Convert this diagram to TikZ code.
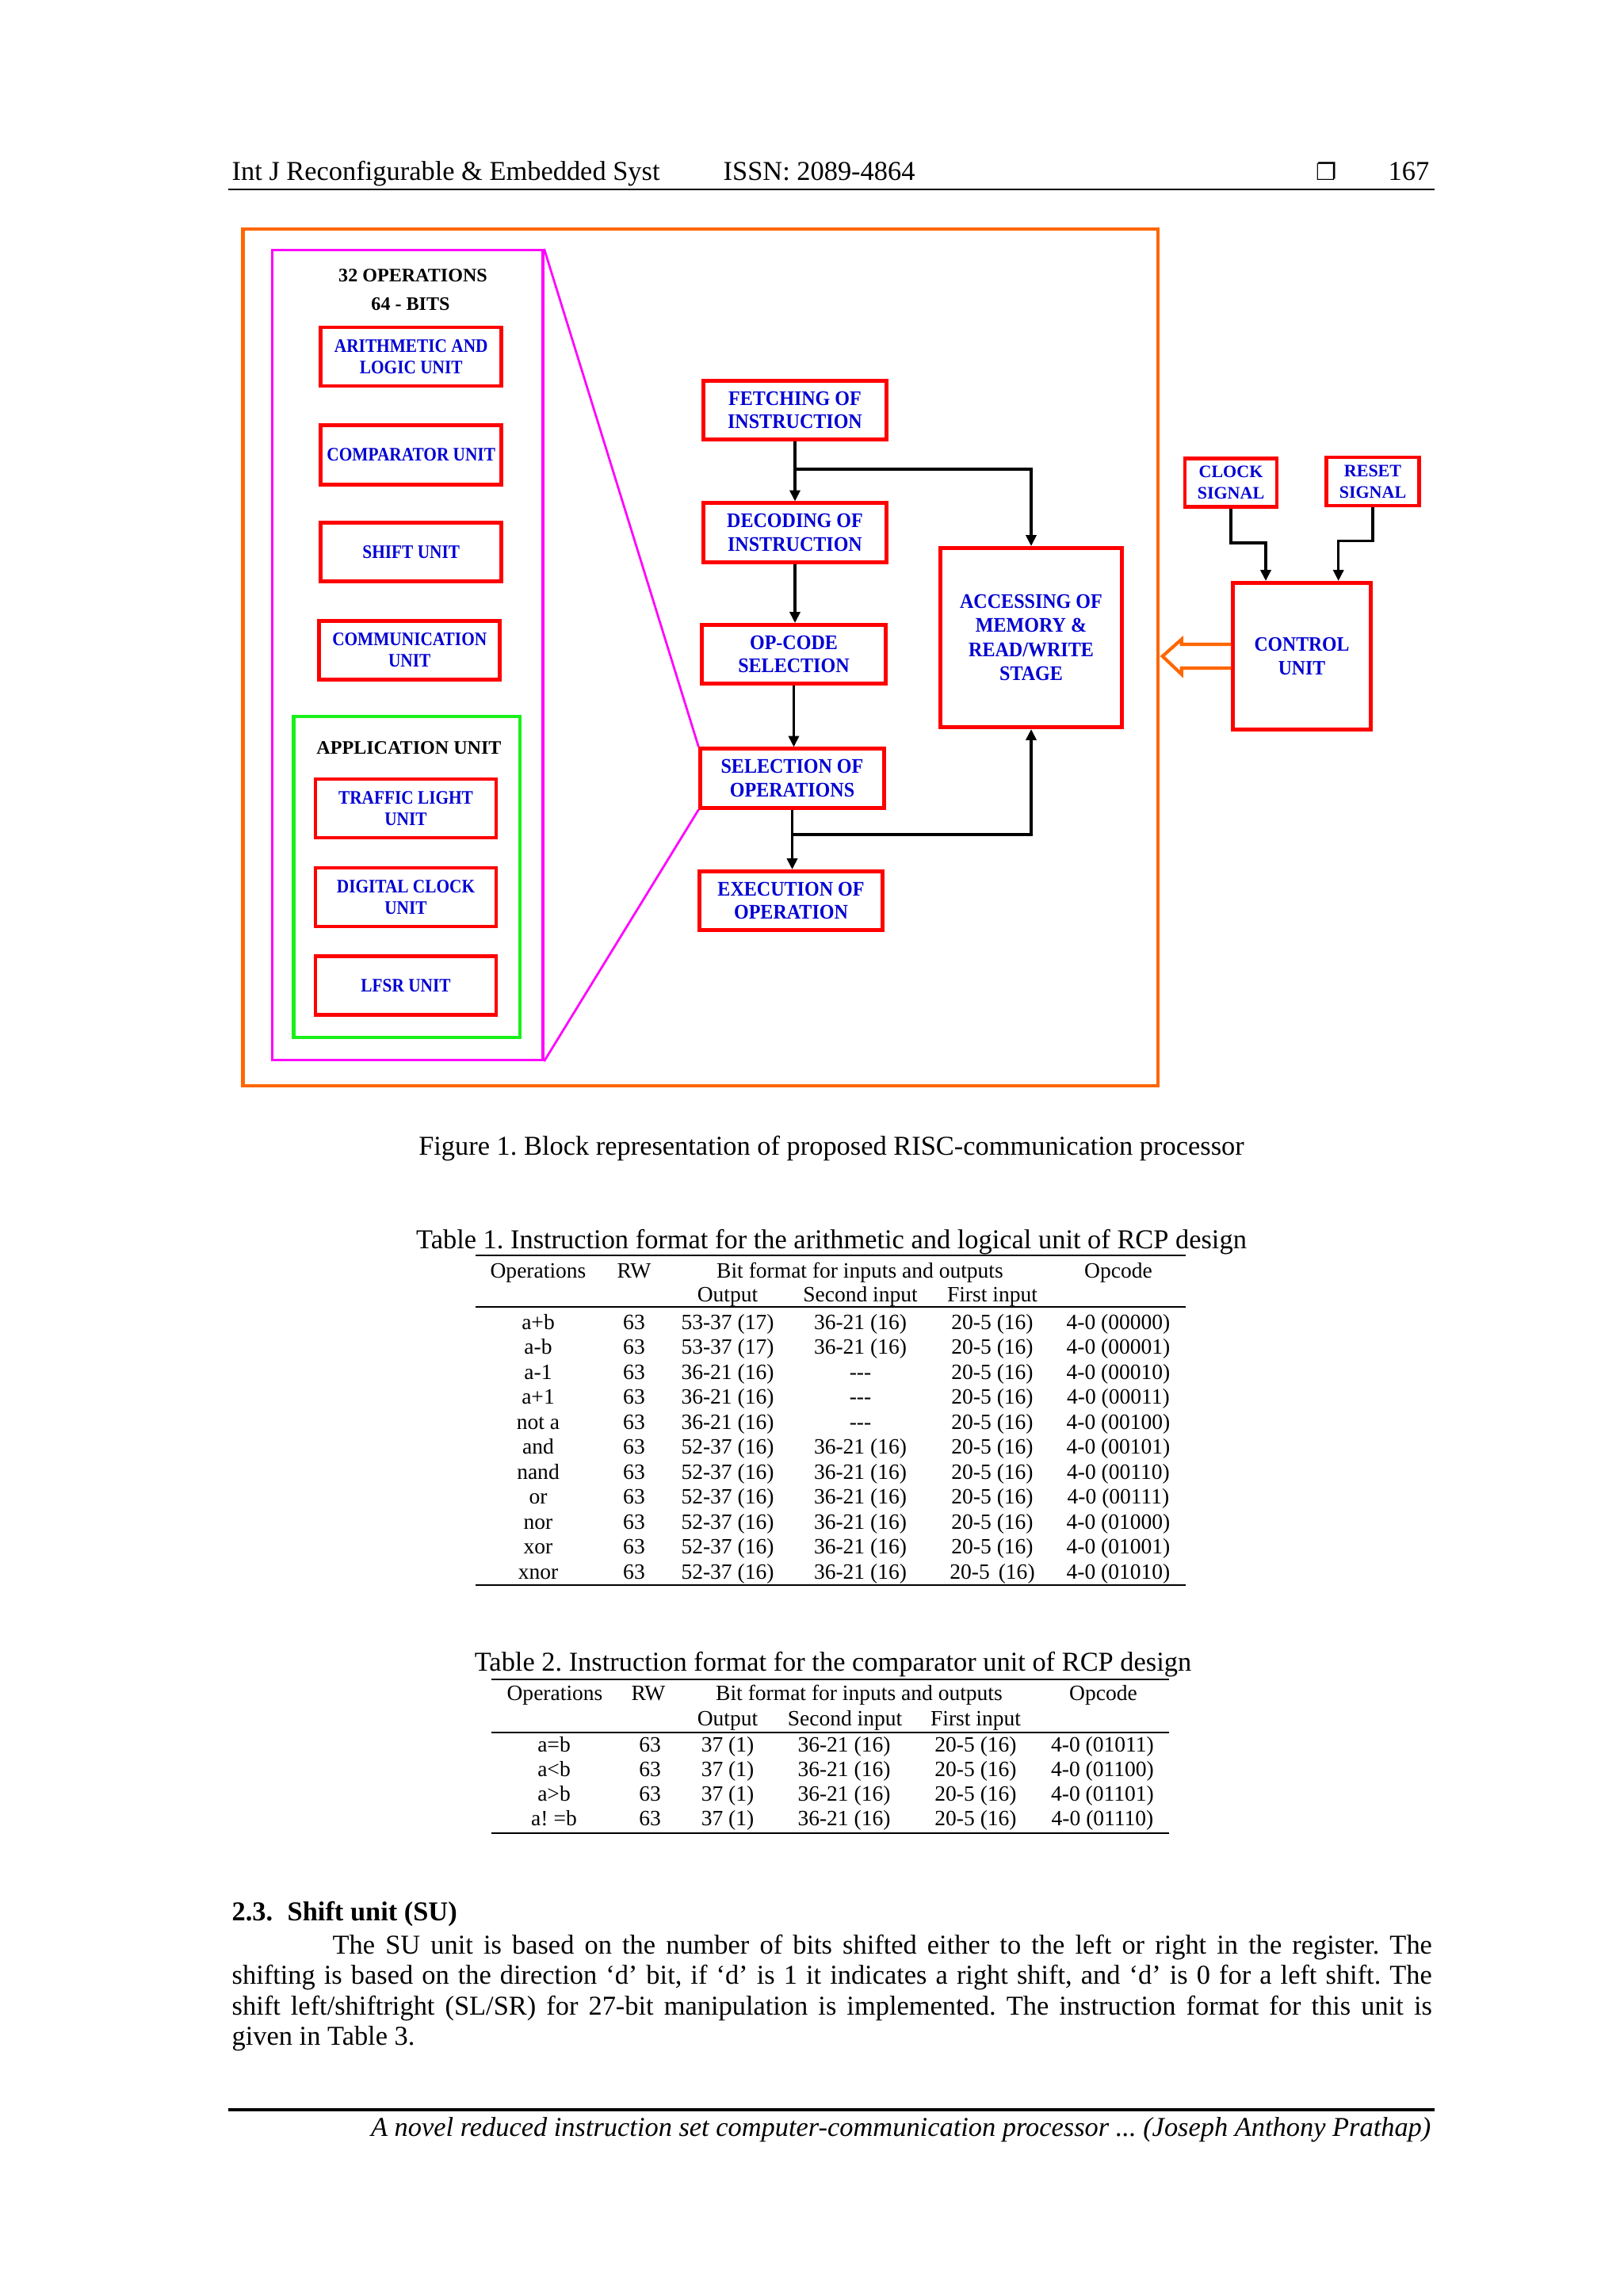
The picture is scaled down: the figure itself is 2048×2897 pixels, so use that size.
\documentclass[tikz,border=0pt]{standalone}
\usepackage{fontspec}
\setmainfont{Liberation Serif}
\newfontfamily\narrowfont{Liberation Serif}[FakeStretch=0.885]
\newfontfamily\midfont{Liberation Serif}[FakeStretch=0.92]
\newfontfamily\symfont{DejaVu Sans}
\usetikzlibrary{arrows.meta}
\definecolor{orng}{RGB}{255,102,0}
\definecolor{mgnt}{RGB}{255,0,255}
\definecolor{rd}{RGB}{255,0,0}
\definecolor{grn}{RGB}{25,240,25}
\definecolor{blu}{RGB}{0,0,210}
\def\pxu{0.290664pt}
\frenchspacing
\tikzset{
  redbox/.style={draw=rd, line width=1.35pt, text=blu, align=center, inner sep=0pt},
  lbox/.style={redbox, minimum width=228*\pxu, minimum height=74*\pxu,
    font=\narrowfont\bfseries\fontsize{7}{7.85}\selectfont},
  cbox/.style={redbox, minimum width=231.5*\pxu, minimum height=74.5*\pxu,
    font=\midfont\bfseries\fontsize{7.6}{8.6}\selectfont},
  sbox/.style={redbox, minimum width=116*\pxu, minimum height=61.5*\pxu,
    font=\bfseries\fontsize{6.4}{7.85}\selectfont},
  arr/.style={line width=0.9pt, -{Triangle[length=4pt,width=3.8pt]}},
  txt/.style={inner sep=0pt, anchor=base, font=\fontsize{10}{12}\selectfont\frenchspacing},
  blk/.style={inner sep=0pt, anchor=base, font=\bfseries\fontsize{7}{8}\selectfont},
  tb/.style={inner sep=0pt, anchor=base, font=\fontsize{8}{9.6}\selectfont},
  rulel/.style={line width=0.6pt},
}
\begin{document}
\frenchspacing
\begin{tikzpicture}[x=0.290664pt, y=-0.290664pt]
\useasboundingbox (0,0) rectangle (2048,2897);
\fill[white] (0,0) rectangle (2048,2897);

% ---------- header ----------
\node[txt, anchor=base west] (hdra) at (292,227) {Int J Reconfigurable \& Embedded Syst};
\node[txt, anchor=base west] (hdrb) at (912,227) {ISSN: 2089-4864};
\node[inner sep=0pt, anchor=base, font=\symfont\fontsize{8.5}{10}\selectfont] (hdrc) at (1674,227) {❐};
\node[txt, anchor=base east] (hdrd) at (1804,227) {167};
\draw[line width=0.8pt] (288,239) -- (1810,239);

% ---------- figure containers ----------
\node[draw=orng, line width=1.2pt, minimum width=1154.5*\pxu, minimum height=1081*\pxu, inner sep=0pt] (outer) at (883.75,829.5) {};
\node[draw=mgnt, line width=0.9pt, minimum width=341.5*\pxu, minimum height=1022*\pxu, inner sep=0pt] (mag) at (514.25,826.5) {};
\node[draw=grn, line width=1.2pt, minimum width=285.5*\pxu, minimum height=405*\pxu, inner sep=0pt] (grnbox) at (513.25,1106.5) {};

\node[blk] (ops32) at (521,355) {32 OPERATIONS};
\node[blk] (bits) at (518,391) {64 - BITS};
\node[blk] (appu) at (516,951) {APPLICATION UNIT};

% ---------- left column ----------
\node[lbox] (alu) at (518.75,450) {ARITHMETIC AND\\LOGIC UNIT};
\node[lbox, minimum height=75.5*\pxu] (cmp) at (518.75,574) {COMPARATOR UNIT};
\node[lbox] (shf) at (518.75,696.5) {SHIFT UNIT};
\node[lbox] (com) at (516.75,820.5) {COMMUNICATION\\UNIT};
\node[lbox] (trf) at (512,1020) {TRAFFIC LIGHT\\UNIT};
\node[lbox] (dig) at (512,1132) {DIGITAL CLOCK\\UNIT};
\node[lbox] (lfsr) at (512,1243.5) {LFSR UNIT};

% ---------- centre column ----------
\node[cbox] (fet) at (1003,517.5) {FETCHING OF\\INSTRUCTION};
\node[cbox] (dec) at (1003,672) {DECODING OF\\INSTRUCTION};
\node[cbox] (opc) at (1001.5,825.5) {OP-CODE\\SELECTION};
\node[cbox] (sel) at (999.5,982) {SELECTION OF\\OPERATIONS};
\node[cbox] (exe) at (998,1136.5) {EXECUTION OF\\OPERATION};
\node[cbox, minimum width=229.5*\pxu, minimum height=226.5*\pxu,
  font=\midfont\bfseries\fontsize{7.6}{8.8}\selectfont] (acc) at (1301,804.5)
  {ACCESSING OF\\MEMORY \&\\READ/WRITE\\STAGE};

% ---------- right part ----------
\node[sbox] (clk) at (1553,609) {CLOCK\\SIGNAL};
\node[sbox, minimum width=116.5*\pxu, minimum height=61*\pxu] (rst) at (1732,607.5) {RESET\\SIGNAL};
\node[redbox, minimum width=174.5*\pxu, minimum height=185.5*\pxu,
  font=\midfont\bfseries\fontsize{7.5}{8.7}\selectfont] (ctl) at (1642.5,828) {CONTROL\\UNIT};

% ---------- magenta zoom lines ----------
\draw[mgnt, line width=0.8pt] (mag.north east) -- (sel.north west);
\draw[mgnt, line width=0.8pt] (mag.south east) -- (sel.south west);

% ---------- arrows ----------
\draw[arr] (fet.south) -- (dec.north);
\coordinate (ba) at (1003,592);
\draw[arr] (ba) -| (acc.north);
\draw[arr] (dec.south) -- (dec.south |- opc.north);
\draw[arr] (opc.south) -- (opc.south |- sel.north);
\draw[arr] (sel.south) -- (sel.south |- exe.north);
\coordinate (bb) at (999.5,1053);
\draw[arr] (bb) -| (acc.south);

\coordinate (ck) at (1597,685);
\draw[arr] (clk.south) |- (ck) -- (ck |- ctl.north);
\coordinate (rk) at (1688.7,682.7);
\draw[arr] (rst.south) |- (rk) -- (rk |- ctl.north);

% hollow orange arrow
\draw[orng, line width=1.2pt, line join=miter, fill=white]
  (1553,813) -- (1490.7,813) -- (1490.7,806.7) -- (1466.7,828) -- (1490.7,850.7) -- (1490.7,843) -- (1553,843);

% ---------- caption ----------
\node[txt] (capt) at (1049,1457) {Figure 1. Block representation of proposed RISC-communication processor};

% ---------- table 1 ----------
\node[txt] (taa) at (1049,1575) {Table 1. Instruction format for the arithmetic and logical unit of RCP design};
\draw[rulel] (600,1584) -- (1496,1584);
\draw[rulel] (600,1649) -- (1496,1649);
\draw[rulel] (600,2000) -- (1496,2000);
\node[tb] (tah1) at (679,1612) {Operations};
\node[tb] (tah2) at (800,1612) {RW};
\node[tb] (tah3) at (1085,1612) {Bit format for inputs and outputs};
\node[tb] (tah4) at (1411,1612) {Opcode};
\node[tb] (tah5) at (918,1642) {Output};
\node[tb] (tah6) at (1085.5,1642) {Second input};
\node[tb] (tah7) at (1252,1642) {First input};
\foreach \va/\vb/\vc/\vd/\ve [count=\i from 0] in {
  a+b/53-37 (17)/36-21 (16)/20-5 (16)/4-0 (00000),
  a-b/53-37 (17)/36-21 (16)/20-5 (16)/4-0 (00001),
  a-1/36-21 (16)/-{}-{}-/20-5 (16)/4-0 (00010),
  a+1/36-21 (16)/-{}-{}-/20-5 (16)/4-0 (00011),
  not a/36-21 (16)/-{}-{}-/20-5 (16)/4-0 (00100),
  and/52-37 (16)/36-21 (16)/20-5 (16)/4-0 (00101),
  nand/52-37 (16)/36-21 (16)/20-5 (16)/4-0 (00110),
  or/52-37 (16)/36-21 (16)/20-5 (16)/4-0 (00111),
  nor/52-37 (16)/36-21 (16)/20-5 (16)/4-0 (01000),
  xor/52-37 (16)/36-21 (16)/20-5 (16)/4-0 (01001),
  xnor/52-37 (16)/36-21 (16)/20-5\hspace{1.2pt} (16)/4-0 (01010)}
{
  \node[tb] (taop\i) at (679,{1677+31.5*\i}) {\va};
  \node[tb] (tarw\i) at (800,{1677+31.5*\i}) {63};
  \node[tb] (taou\i) at (918,{1677+31.5*\i}) {\vb};
  \node[tb] (tase\i) at (1085.5,{1677+31.5*\i}) {\vc};
  \node[tb] (tafi\i) at (1252,{1677+31.5*\i}) {\vd};
  \node[tb] (tacd\i) at (1411,{1677+31.5*\i}) {\ve};
}

% ---------- table 2 ----------
\node[txt] (tbb) at (1051,2108) {Table 2. Instruction format for the comparator unit of RCP design};
\draw[rulel] (620,2119) -- (1475,2119);
\draw[rulel] (620,2186) -- (1475,2186);
\draw[rulel] (620,2313) -- (1475,2313);
\node[tb] (tbh1) at (700,2145) {Operations};
\node[tb] (tbh2) at (818,2145) {RW};
\node[tb] (tbh3) at (1084,2145) {Bit format for inputs and outputs};
\node[tb] (tbh4) at (1392,2145) {Opcode};
\node[tb] (tbh5) at (918,2177) {Output};
\node[tb] (tbh6) at (1066,2177) {Second input};
\node[tb] (tbh7) at (1231,2177) {First input};
\foreach \va/\ve [count=\i from 0] in {a=b/4-0 (01011), a<b/4-0 (01100), a>b/4-0 (01101), a! =b/4-0 (01110)}
{
  \node[tb] (tbop\i) at (699,{2210+31.3*\i}) {\va};
  \node[tb] (tbrw\i) at (820,{2210+31.3*\i}) {63};
  \node[tb] (tbou\i) at (918,{2210+31.3*\i}) {37 (1)};
  \node[tb] (tbse\i) at (1065,{2210+31.3*\i}) {36-21 (16)};
  \node[tb] (tbfi\i) at (1231,{2210+31.3*\i}) {20-5 (16)};
  \node[tb] (tbcd\i) at (1391,{2210+31.3*\i}) {\ve};
}

% ---------- section text ----------
\node[txt, anchor=base west, font=\bfseries\fontsize{10}{12}\selectfont] (sha) at (292,2423) {2.3.};
\node[txt, anchor=base west, font=\bfseries\fontsize{10}{12}\selectfont] (shb) at (362,2423) {Shift unit (SU)};
\node[txt, anchor=base west] (pla) at (419,2465) {\makebox[403.2pt][s]{The SU unit is based on the number of bits shifted either to the left or right in the register. The}};
\node[txt, anchor=base west] (plb) at (292,2503) {\makebox[440.1pt][s]{shifting is based on the direction ‘d’ bit, if ‘d’ is 1 it indicates a right shift, and ‘d’ is 0 for a left shift. The}};
\node[txt, anchor=base west] (plc) at (292,2542) {\makebox[440.1pt][s]{shift left/shiftright (SL/SR) for 27-bit manipulation is implemented. The instruction format for this unit is}};
\node[txt, anchor=base west] (pld) at (292,2580) {given in Table 3.};

% ---------- footer ----------
\draw[line width=0.9pt] (288,2662) -- (1810,2662);
\node[txt, anchor=base east, font=\itshape\fontsize{10}{12}\selectfont\frenchspacing] (foot) at (1806,2695) {A novel reduced instruction set computer-communication processor ... (Joseph Anthony Prathap)};
\end{tikzpicture}
\end{document}
